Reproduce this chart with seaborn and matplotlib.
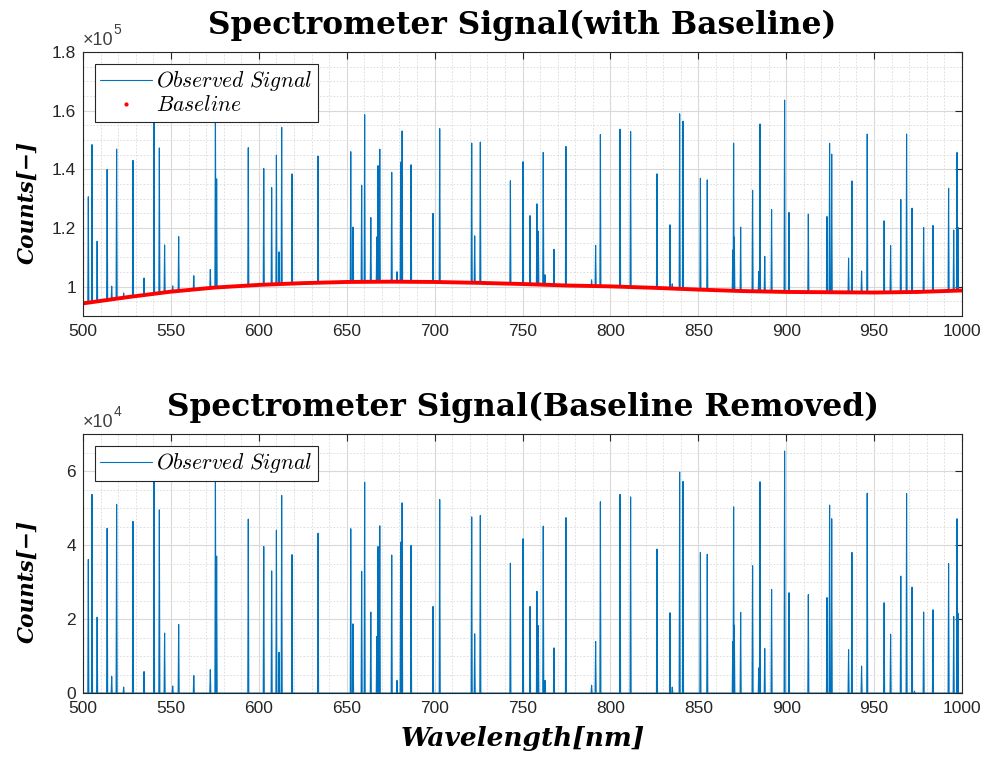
import numpy as np
import pandas as pd
import matplotlib
matplotlib.use("Agg")
import matplotlib.pyplot as plt
import seaborn as sns
from matplotlib.lines import Line2D
from matplotlib.ticker import MultipleLocator, FuncFormatter

# spike positions [nm] and heights above baseline [counts]
spike_nm = [503.0, 505.1, 508.0, 513.7, 516.3, 519.1, 523.1, 528.4, 534.7, 540.4,
            543.4, 546.4, 551.0, 554.4, 563.0, 572.4, 575.3, 576.0, 594.0, 602.8,
            607.3, 610.0, 611.5, 613.0, 618.9, 633.7, 652.3, 653.6, 658.5, 660.2,
            663.7, 667.1, 667.8, 668.8, 675.6, 678.6, 680.7, 681.5, 686.6, 699.1,
            702.9, 721.1, 722.8, 726.0, 743.1, 750.3, 754.3, 758.2, 759.0, 761.8,
            762.8, 767.9, 774.7, 789.3, 791.6, 794.3, 805.5, 811.5, 826.5, 833.9,
            835.2, 839.4, 841.3, 851.2, 855.1, 869.6, 870.1, 870.5, 874.1, 880.9,
            884.4, 885.1, 887.8, 891.7, 899.1, 901.6, 912.6, 923.2, 924.7, 925.9,
            935.5, 937.4, 942.9, 946.1, 955.7, 959.4, 965.2, 968.5, 971.6, 973.0,
            978.2, 983.5, 992.4, 995.3, 997.2, 997.7]
spike_h = [3.61, 5.37, 2.05, 4.45, 0.45, 5.10, 0.16, 4.64, 0.58, 6.20,
           4.95, 1.62, 0.19, 1.85, 0.47, 0.63, 6.20, 3.70, 4.70, 3.96,
           3.30, 4.40, 1.10, 5.34, 3.74, 4.32, 4.44, 1.87, 3.29, 5.70,
           2.19, 1.53, 3.96, 4.52, 3.73, 0.34, 4.08, 5.14, 3.99, 2.34,
           5.23, 4.76, 1.60, 4.80, 3.51, 4.17, 2.34, 2.75, 1.82, 4.51,
           0.34, 1.22, 4.74, 0.21, 1.39, 5.17, 5.37, 5.30, 3.89, 2.17,
           0.16, 5.97, 5.72, 3.80, 3.75, 1.39, 5.03, 1.83, 2.18, 3.44,
           0.68, 5.71, 1.20, 2.80, 6.54, 2.71, 2.66, 2.58, 5.08, 4.71,
           1.17, 3.80, 0.73, 5.40, 2.44, 1.59, 3.16, 5.39, 2.86, 0.05,
           2.19, 2.25, 3.50, 2.07, 4.71, 2.16]
spike_h = [h * 1e4 for h in spike_h]

# baseline read every 25 nm
base_nm = [500, 525, 550, 575, 600, 625, 650, 675, 700, 725, 750,
           775, 800, 825, 850, 875, 900, 925, 950, 975, 1000]
base_val = [0.943, 0.964, 0.983, 0.997, 1.006, 1.012, 1.016, 1.017, 1.016, 1.013, 1.009,
            1.004, 1.001, 0.996, 0.990, 0.985, 0.982, 0.981, 0.980, 0.982, 0.987]
base_val = [v * 1e5 for v in base_val]

# build the spiky signal (narrow triangles)
w = 0.3
xs, ys = [500.0], [0.0]
for x, h in zip(spike_nm, spike_h):
    xs += [x - w, x, x + w]
    ys += [0.0, h, 0.0]
xs.append(1000.0)
ys.append(0.0)
xs = np.array(xs)
ys = np.array(ys)
df = pd.DataFrame({"nm": xs, "removed": ys,
                   "with_base": ys + np.interp(xs, base_nm, base_val)})
base_df = pd.DataFrame({"nm": base_nm, "val": base_val})

sns.set_style("white")
plt.rcParams["font.family"] = ["Liberation Sans", "DejaVu Sans"]
plt.rcParams["mathtext.fontset"] = "cm"

blue = "#0072BD"
dark = "#262626"
title_font = dict(family="DejaVu Serif", weight="bold", size=22.5, color="black")
label_font = dict(family="DejaVu Serif", weight="bold", style="italic", color="black")

fig = plt.figure(figsize=(9.91, 7.64), dpi=100)
ax1 = fig.add_axes([0.0838, 0.5864, 0.8869, 0.3455])
ax2 = fig.add_axes([0.0838, 0.0929, 0.8869, 0.3390])


def style_axes(ax, ylim, scale, power):
    ax.set_xlim(500, 1000)
    ax.set_ylim(*ylim)
    ax.xaxis.set_major_locator(MultipleLocator(50))
    ax.xaxis.set_minor_locator(MultipleLocator(10))
    ax.yaxis.set_major_locator(MultipleLocator(20000))
    ax.yaxis.set_minor_locator(MultipleLocator(5000))
    ax.yaxis.set_major_formatter(FuncFormatter(lambda v, p: f"{v / scale:g}"))
    ax.grid(True, which="major", color="#d9d9d9", linewidth=0.8, linestyle="-")
    ax.grid(True, which="minor", color="#d9d9d9", linewidth=0.6, linestyle=(0, (2, 2)))
    ax.set_axisbelow(True)
    ax.tick_params(which="major", direction="in", length=5, width=0.8,
                   top=True, right=True, labelsize=12.5, colors=dark)
    ax.tick_params(axis="x", pad=6)
    ax.tick_params(axis="y", pad=5)
    ax.tick_params(which="minor", length=0)
    for s in ax.spines.values():
        s.set_color(dark)
        s.set_linewidth(0.8)
    t = ax.text(0.0, 1.012, "×10", transform=ax.transAxes, ha="left", va="bottom",
                fontsize=13, color="#404040")
    ax.annotate(str(power), xy=(1.0, 0.72), xycoords=t, ha="left", va="bottom",
                fontsize=10, color="#404040")
    ax.set_xlabel("")
    ax.set_ylabel("Counts[−]", fontsize=15.5, **label_font)
    ax.yaxis.set_label_coords(-0.05, 0.43)


def add_legend(ax, handles, labels):
    leg = ax.legend(handles, labels, loc="upper left",
                    fontsize=15.5, frameon=True, fancybox=False, framealpha=1,
                    edgecolor=dark, handlelength=2.4, handletextpad=0.2,
                    borderpad=0.25, labelspacing=0.1, borderaxespad=0.55)
    leg.get_frame().set_linewidth(0.8)
    for txt in leg.get_texts():
        txt.set_color("black")


# top panel
sns.lineplot(data=df, x="nm", y="with_base", ax=ax1, color=blue, linewidth=0.8,
             estimator=None, sort=False)
sns.lineplot(data=base_df, x="nm", y="val", ax=ax1, color="red", linewidth=2.8,
             estimator=None)
style_axes(ax1, (0.9e5, 1.8e5), 1e5, 5)
ax1.set_yticks([1.0e5, 1.2e5, 1.4e5, 1.6e5, 1.8e5])
ax1.set_title("Spectrometer Signal(with Baseline)", pad=13, **title_font)
add_legend(ax1,
           [Line2D([], [], color=blue, linewidth=0.8),
            Line2D([], [], color="red", marker=".", markersize=4, linestyle="none")],
           [r"$Observed\ Signal$", r"$Baseline$"])

# bottom panel
sns.lineplot(data=df, x="nm", y="removed", ax=ax2, color=blue, linewidth=0.8,
             estimator=None, sort=False)
style_axes(ax2, (0, 7e4), 1e4, 4)
ax2.set_title("Spectrometer Signal(Baseline Removed)", pad=13, **title_font)
ax2.set_xlabel("Wavelength[nm]", fontsize=19, labelpad=7, **label_font)
add_legend(ax2, [Line2D([], [], color=blue, linewidth=0.8)], [r"$Observed\ Signal$"])

plt.savefig("out.png", dpi=100)
plt.close()
